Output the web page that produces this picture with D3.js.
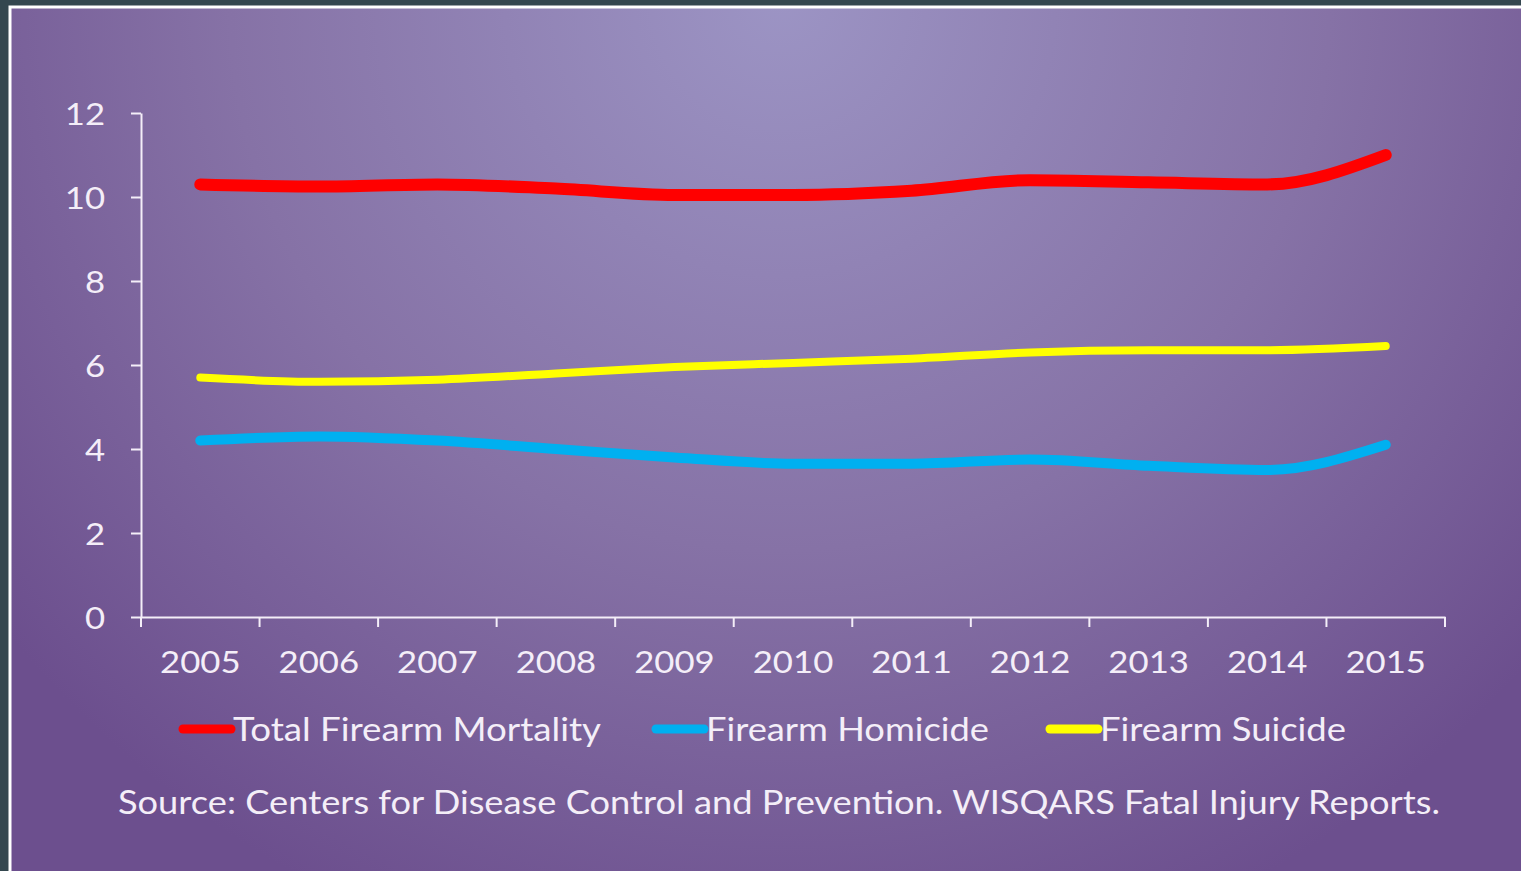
<!DOCTYPE html>
<html>
<head>
<meta charset="utf-8">
<script src="https://cdn.jsdelivr.net/npm/d3@7"></script>
<style>
  html, body { margin: 0; padding: 0; background: #34474f; }
  svg { display: block; }
  text { font-family: Lato, "Open Sans", sans-serif; fill: #f4eef8; }
</style>
</head>
<body>
<div id="chart"></div>
<script>
// data
const years = ['2005', '2006', '2007', '2008', '2009', '2010', '2011', '2012', '2013', '2014', '2015'];
const totalMortality = [10.3, 10.25, 10.3, 10.2, 10.05, 10.05, 10.15, 10.4, 10.35, 10.3, 11.0];
const homicide = [4.2, 4.3, 4.2, 4.0, 3.8, 3.65, 3.65, 3.75, 3.6, 3.5, 4.1];
const suicide = [5.7, 5.6, 5.65, 5.8, 5.95, 6.05, 6.15, 6.3, 6.35, 6.35, 6.45];
const yTicks = [0, 2, 4, 6, 8, 10, 12];
const seriesNames = ['Total Firearm Mortality', 'Firearm Homicide', 'Firearm Suicide'];
const sourceText = 'Source: Centers for Disease Control and Prevention. WISQARS Fatal Injury Reports.';

const W = 1521, H = 871;
const margin = {left: 141, right: 76, top: 113, bottom: 254};

const series = [
  {name: seriesNames[0], values: totalMortality, color: '#ff0000', width: 12},
  {name: seriesNames[1], values: homicide, color: '#00b0f0', width: 10},
  {name: seriesNames[2], values: suicide, color: '#ffff00', width: 8}
];

const svg = d3.select('#chart').append('svg')
  .attr('width', W)
  .attr('height', H);

const defs = svg.append('defs');
const grad = defs.append('radialGradient')
  .attr('id', 'bg')
  .attr('gradientUnits', 'userSpaceOnUse')
  .attr('cx', 780).attr('cy', 0).attr('r', 1000);
grad.append('stop').attr('offset', '0%').attr('stop-color', '#9c94c4');
grad.append('stop').attr('offset', '55%').attr('stop-color', '#8672a6');
grad.append('stop').attr('offset', '100%').attr('stop-color', '#6c4f8e');

// panel with thin white frame
svg.append('rect')
  .attr('x', 10).attr('y', 7)
  .attr('width', W).attr('height', H)
  .attr('fill', 'url(#bg)')
  .attr('stroke', '#ffffff')
  .attr('stroke-width', 3);

const x = d3.scaleBand()
  .domain(years)
  .range([margin.left, W - margin.right]);

const y = d3.scaleLinear()
  .domain([0, 12])
  .range([H - margin.bottom, margin.top]);

// y axis
const yAxis = svg.append('g')
  .attr('transform', 'translate(' + margin.left + ',0)')
  .call(d3.axisLeft(y).tickValues(yTicks).tickSize(10).tickSizeOuter(0).tickPadding(26));

// x axis
const xAxis = svg.append('g')
  .attr('transform', 'translate(0,' + y(0) + ')')
  .call(d3.axisBottom(x).tickSize(0).tickSizeOuter(0).tickPadding(34));

// tick marks between the categories
const edges = years.map(d => x(d)).concat([x.range()[1]]);
xAxis.selectAll('.edge')
  .data(edges)
  .enter()
  .append('line')
  .attr('class', 'edge')
  .attr('x1', d => d).attr('x2', d => d)
  .attr('y1', 0).attr('y2', 10);

svg.selectAll('.domain, .tick line, .edge')
  .attr('stroke', '#f4eef8')
  .attr('stroke-width', 2);
svg.selectAll('.tick text')
  .style('font-size', '31px')
  .attr('fill', '#f4eef8');
yAxis.selectAll('.tick text')
  .attr('dy', '0.36em')
  .attr('transform', 'translate(-37,0) scale(1.12,1) translate(37,0)');
xAxis.selectAll('.tick text')
  .attr('dy', '0.7em')
  .attr('transform', 'scale(1.12,1)');

// lines
const line = d3.line()
  .x((d, i) => x(years[i]) + x.bandwidth() / 2)
  .y(d => y(d))
  .curve(d3.curveMonotoneX);

svg.selectAll('.series')
  .data(series)
  .enter()
  .append('path')
  .attr('class', 'series')
  .attr('fill', 'none')
  .attr('stroke', d => d.color)
  .attr('stroke-width', d => d.width)
  .attr('stroke-linecap', 'round')
  .attr('stroke-linejoin', 'round')
  .attr('d', d => line(d.values));

// legend
const legendX = [183, 656, 1050];
const legendLen = [368, 283, 246];
const legend = svg.selectAll('.legend')
  .data(series)
  .enter()
  .append('g')
  .attr('class', 'legend')
  .attr('transform', (d, i) => 'translate(' + legendX[i] + ',729)');

legend.append('line')
  .attr('x1', 0).attr('x2', 48)
  .attr('y1', 0).attr('y2', 0)
  .attr('stroke', d => d.color)
  .attr('stroke-width', 9)
  .attr('stroke-linecap', 'round');

legend.append('text')
  .attr('x', 50)
  .attr('y', 0)
  .attr('dy', '0.36em')
  .attr('textLength', (d, i) => legendLen[i])
  .attr('lengthAdjust', 'spacingAndGlyphs')
  .style('font-size', '33px')
  .text(d => d.name);

svg.append('text')
  .attr('x', 118)
  .attr('y', 802)
  .attr('dy', '0.36em')
  .attr('textLength', 1322)
  .attr('lengthAdjust', 'spacingAndGlyphs')
  .style('font-size', '32px')
  .text(sourceText);
</script>
</body>
</html>
